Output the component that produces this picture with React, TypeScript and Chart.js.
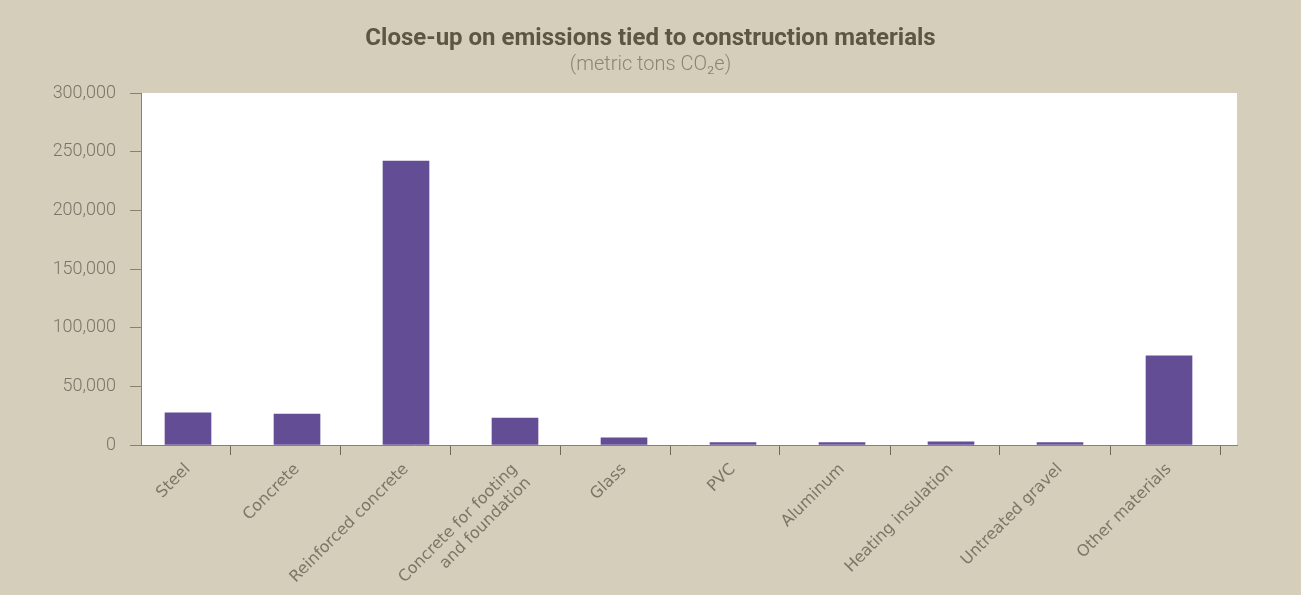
import React, { useEffect, useRef } from "react";
import { Chart, registerables } from "chart.js";

Chart.register(...registerables);

const categories: (string | string[])[] = [
  "Steel",
  "Concrete",
  "Reinforced concrete",
  ["Concrete for footing", "and foundation"],
  "Glass",
  "PVC",
  "Aluminum",
  "Heating insulation",
  "Untreated gravel",
  "Other materials",
];

const emissions: number[] = [27500, 26400, 242000, 23000, 6200, 2000, 2000, 2800, 2000, 76000];

const yTickValues: number[] = [0, 50000, 100000, 150000, 200000, 250000, 300000];

const TITLE = "Close-up on emissions tied to construction materials";
const SUBTITLE = "(metric tons CO\u2082e)";

const BG = "#d4cebb";
const BAR = "#634e95";
const AXIS = "#878270";
const TICK = "#6f6b5a";

// x positions in category-index units
const X_MIN = -47 / 109;
const X_MAX = 9 + 68 / 109;
const TICK_START = 42 / 109;
const TICK_STEP = 110 / 109;

const plotBackground = {
  id: "plotBackground",
  beforeDraw(chart: any) {
    const { ctx, chartArea } = chart;
    if (!chartArea) return;
    ctx.save();
    ctx.fillStyle = "#ffffff";
    ctx.fillRect(chartArea.left, chartArea.top, chartArea.right - chartArea.left, chartArea.bottom - chartArea.top);
    ctx.restore();
  },
};

export default function App() {
  const ref = useRef<HTMLCanvasElement | null>(null);

  useEffect(() => {
    if (!ref.current) return;
    const chart = new Chart(ref.current, {
      type: "bar",
      data: {
        datasets: [
          {
            data: emissions.map((v, i) => ({ x: i, y: v })),
            backgroundColor: BAR,
            borderWidth: 0,
            barThickness: 46,
          },
        ],
      },
      plugins: [plotBackground],
      options: {
        animation: false,
        responsive: false,
        layout: { padding: 0 },
        plugins: {
          legend: { display: false },
          tooltip: { enabled: false },
          title: {
            display: true,
            text: TITLE,
            color: "#5b5742",
            font: { family: "Roboto, 'DejaVu Sans', sans-serif", size: 24, weight: "bold", lineHeight: "26px" },
            padding: { top: 26, bottom: 0 },
          },
          subtitle: {
            display: true,
            text: SUBTITLE,
            color: "#8b8672",
            font: { family: "Roboto, 'DejaVu Sans', sans-serif", size: 20, weight: "300", lineHeight: "22px" },
            padding: { top: 2, bottom: 17 },
          },
        },
        scales: {
          x: {
            type: "linear",
            position: "bottom",
            offset: false,
            min: X_MIN,
            max: X_MAX,
            afterBuildTicks: (scale: any) => {
              scale.ticks = categories.map((_, i) => ({ value: i }));
            },
            afterFit: (scale: any) => {
              scale.height = 150;
            },
            grid: { display: false, drawTicks: false, offset: false },
            border: { display: false },
            ticks: {
              autoSkip: false,
              minRotation: 45,
              maxRotation: 45,
              padding: 15,
              color: "#7b7666",
              font: { family: "'DejaVu Sans', sans-serif", size: 16 },
              callback: (v: any) => categories[Math.round(Number(v))] as any,
            },
          },
          x2: {
            type: "linear",
            axis: "x",
            position: { y: 0 } as any,
            offset: false,
            min: X_MIN,
            max: X_MAX,
            afterBuildTicks: (scale: any) => {
              scale.ticks = categories.map((_, k) => ({ value: TICK_START + k * TICK_STEP }));
            },
            grid: {
              display: true,
              offset: false,
              drawOnChartArea: false,
              drawTicks: true,
              tickLength: 9,
              color: TICK,
              lineWidth: 1,
            },
            border: { display: true, color: AXIS, width: 1, z: 1 },
            ticks: { display: false },
          },
          y: {
            type: "linear",
            position: "left",
            min: 0,
            max: 300000,
            afterBuildTicks: (scale: any) => {
              scale.ticks = yTickValues.map((v) => ({ value: v }));
            },
            afterFit: (scale: any) => {
              scale.width = 141;
            },
            grid: {
              display: true,
              drawOnChartArea: false,
              drawTicks: true,
              tickLength: 11,
              color: AXIS,
              lineWidth: 1,
            },
            border: { display: true, color: AXIS, width: 1 },
            ticks: {
              padding: 14,
              color: "#7a7566",
              font: { family: "Roboto, 'DejaVu Sans', sans-serif", size: 18, weight: "300" },
              callback: (v: any) => Number(v).toLocaleString("en-US"),
            },
          },
          yRight: {
            type: "linear",
            axis: "y",
            position: "right",
            display: true,
            afterFit: (scale: any) => {
              scale.width = 64;
            },
            grid: { display: false, drawTicks: false },
            border: { display: false },
            ticks: { display: false },
          },
        },
      } as any,
    });
    return () => chart.destroy();
  }, []);

  return (
    <div style={{ position: "fixed", left: 0, top: 0, width: 1301, height: 595, background: BG }}>
      <canvas ref={ref} width={1301} height={595} style={{ display: "block" }} />
    </div>
  );
}
